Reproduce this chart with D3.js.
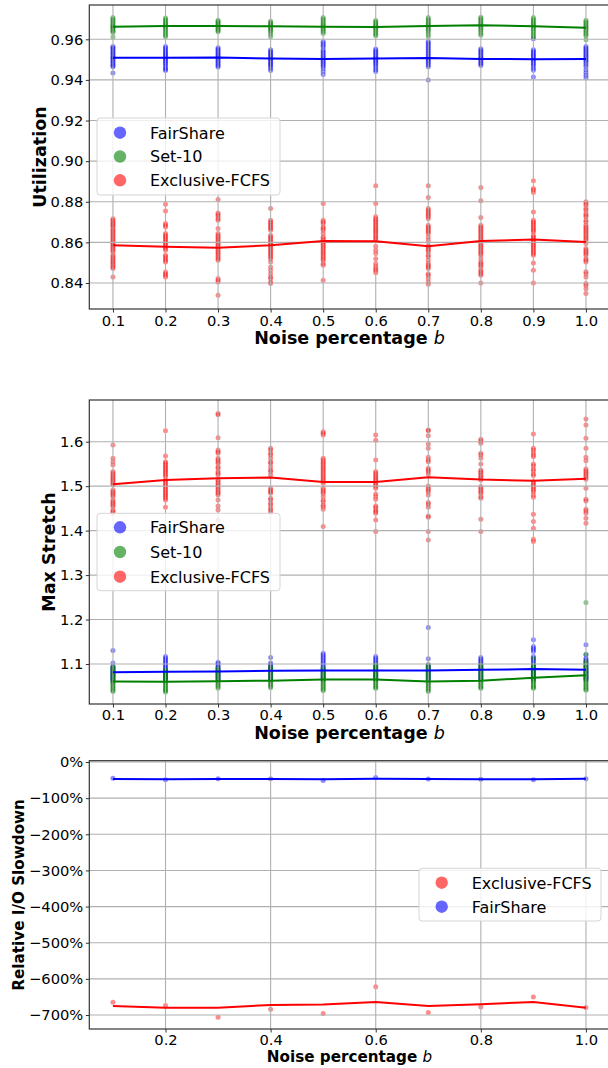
<!DOCTYPE html>
<html>
<head>
<meta charset="utf-8">
<script src="https://cdn.jsdelivr.net/npm/d3@7"></script>
<style>
	body { margin: 0; background: #fff; }
	svg { display: block; font-family: 'DejaVu Sans', sans-serif; }
</style>
</head>
<body>
<script>

// noise levels (x axis)
const noise = [0.1, 0.2, 0.3, 0.4, 0.5, 0.6, 0.7, 0.8, 0.9, 1.0]

// ---- Utilization ----
const utilFairShareMean = [0.9509, 0.9509, 0.9511, 0.9505, 0.9503, 0.9506, 0.9508, 0.9503, 0.9502, 0.9503]
const utilSet10Mean = [0.96623, 0.96656, 0.96656, 0.96639, 0.96623, 0.96606, 0.96656, 0.96689, 0.96639, 0.96573]
const utilExclusiveMean = [0.8586, 0.8578, 0.8574, 0.8586, 0.8607, 0.8606, 0.8581, 0.8607, 0.8614, 0.8602]

const utilFairSharePts = [
	[0.9564, 0.9558, 0.9552, 0.9545, 0.9538, 0.9531, 0.9524, 0.9517, 0.9511, 0.9505, 0.9498, 0.9491, 0.9484, 0.9477, 0.9470, 0.9465, 0.9434],
	[0.9564, 0.9557, 0.9549, 0.9541, 0.9534, 0.9527, 0.9520, 0.9513, 0.9507, 0.9500, 0.9493, 0.9486, 0.9478, 0.9470, 0.9460, 0.9452, 0.9446],
	[0.9559, 0.9552, 0.9545, 0.9538, 0.9531, 0.9524, 0.9518, 0.9512, 0.9505, 0.9498, 0.9491, 0.9484, 0.9477, 0.9470, 0.9464],
	[0.9548, 0.9541, 0.9534, 0.9527, 0.9520, 0.9513, 0.9507, 0.9501, 0.9494, 0.9487, 0.9480, 0.9473, 0.9466, 0.9456, 0.9446],
	[0.9589, 0.9580, 0.9571, 0.9563, 0.9548, 0.9540, 0.9532, 0.9524, 0.9516, 0.9509, 0.9502, 0.9495, 0.9488, 0.9481, 0.9474, 0.9466, 0.9455, 0.9441, 0.9427],
	[0.9552, 0.9545, 0.9538, 0.9531, 0.9524, 0.9517, 0.9511, 0.9505, 0.9499, 0.9492, 0.9485, 0.9478, 0.9470, 0.9460, 0.9450, 0.9441],
	[0.9590, 0.9582, 0.9574, 0.9566, 0.9558, 0.9550, 0.9542, 0.9534, 0.9526, 0.9518, 0.9511, 0.9504, 0.9497, 0.9490, 0.9482, 0.9474, 0.9465, 0.9400],
	[0.9553, 0.9546, 0.9539, 0.9532, 0.9525, 0.9518, 0.9511, 0.9505, 0.9499, 0.9492, 0.9485, 0.9478, 0.9471],
	[0.9603, 0.9548, 0.9541, 0.9534, 0.9527, 0.9520, 0.9513, 0.9506, 0.9500, 0.9493, 0.9485, 0.9477, 0.9468, 0.9458, 0.9448, 0.9414],
	[0.9564, 0.9557, 0.9550, 0.9543, 0.9536, 0.9529, 0.9522, 0.9515, 0.9508, 0.9501, 0.9494, 0.9486, 0.9476, 0.9466, 0.9450, 0.9436, 0.9423, 0.9411]
]
const utilSet10Pts = [
	[0.9707, 0.9700, 0.9693, 0.9686, 0.9679, 0.9672, 0.9666, 0.9662, 0.9658, 0.9652, 0.9646, 0.9640, 0.9634, 0.9611],
	[0.9705, 0.9698, 0.9690, 0.9683, 0.9676, 0.9670, 0.9665, 0.9660, 0.9653, 0.9645, 0.9637, 0.9628, 0.9620, 0.9612],
	[0.9694, 0.9688, 0.9682, 0.9676, 0.9670, 0.9665, 0.9660, 0.9654, 0.9648, 0.9642, 0.9637],
	[0.9689, 0.9683, 0.9677, 0.9671, 0.9666, 0.9661, 0.9656, 0.9650, 0.9643, 0.9636, 0.9625, 0.9613],
	[0.9707, 0.9700, 0.9692, 0.9684, 0.9677, 0.9670, 0.9664, 0.9658, 0.9651, 0.9644, 0.9637, 0.9629],
	[0.9693, 0.9686, 0.9679, 0.9672, 0.9665, 0.9660, 0.9655, 0.9648, 0.9640, 0.9632, 0.9624, 0.9617],
	[0.9707, 0.9699, 0.9691, 0.9684, 0.9677, 0.9670, 0.9664, 0.9658, 0.9651, 0.9643, 0.9635, 0.9624, 0.9613],
	[0.9709, 0.9702, 0.9695, 0.9688, 0.9681, 0.9674, 0.9668, 0.9662, 0.9655, 0.9647, 0.9638, 0.9629, 0.9620],
	[0.9707, 0.9699, 0.9691, 0.9684, 0.9677, 0.9670, 0.9664, 0.9658, 0.9651, 0.9643, 0.9635, 0.9625, 0.9618, 0.9608],
	[0.9694, 0.9687, 0.9680, 0.9673, 0.9666, 0.9660, 0.9654, 0.9647, 0.9640, 0.9632, 0.9624, 0.9616, 0.9598]
]
const utilExclusivePts = [
	[0.8717, 0.8709, 0.8701, 0.8693, 0.8686, 0.8680, 0.8668, 0.8660, 0.8652, 0.8644, 0.8635, 0.8627, 0.8619, 0.8611, 0.8602, 0.8594, 0.8586, 0.8578, 0.8570, 0.8561, 0.8553, 0.8537, 0.8529, 0.8520, 0.8512, 0.8504, 0.8496, 0.8487, 0.8479, 0.8471, 0.8430],
	[0.8788, 0.8755, 0.8693, 0.8685, 0.8676, 0.8644, 0.8635, 0.8627, 0.8619, 0.8611, 0.8602, 0.8594, 0.8586, 0.8578, 0.8570, 0.8561, 0.8537, 0.8529, 0.8520, 0.8512, 0.8504, 0.8454, 0.8446, 0.8438, 0.8430],
	[0.8811, 0.8745, 0.8737, 0.8729, 0.8717, 0.8709, 0.8668, 0.8644, 0.8635, 0.8627, 0.8619, 0.8611, 0.8602, 0.8594, 0.8586, 0.8578, 0.8570, 0.8561, 0.8553, 0.8545, 0.8537, 0.8528, 0.8520, 0.8512, 0.8422, 0.8413, 0.8405, 0.8340],
	[0.8767, 0.8709, 0.8701, 0.8693, 0.8685, 0.8676, 0.8668, 0.8660, 0.8635, 0.8627, 0.8619, 0.8611, 0.8602, 0.8594, 0.8586, 0.8578, 0.8570, 0.8561, 0.8553, 0.8545, 0.8537, 0.8528, 0.8520, 0.8504, 0.8479, 0.8463, 0.8446, 0.8430, 0.8422, 0.8405, 0.8397],
	[0.8791, 0.8709, 0.8701, 0.8693, 0.8676, 0.8668, 0.8660, 0.8644, 0.8627, 0.8619, 0.8611, 0.8602, 0.8594, 0.8586, 0.8578, 0.8570, 0.8561, 0.8553, 0.8545, 0.8537, 0.8528, 0.8520, 0.8512, 0.8496, 0.8487, 0.8413],
	[0.8879, 0.8791, 0.8726, 0.8717, 0.8709, 0.8701, 0.8693, 0.8685, 0.8676, 0.8668, 0.8660, 0.8652, 0.8644, 0.8635, 0.8627, 0.8619, 0.8611, 0.8581, 0.8561, 0.8545, 0.8520, 0.8496, 0.8483, 0.8470, 0.8463, 0.8451],
	[0.8879, 0.8821, 0.8767, 0.8758, 0.8750, 0.8742, 0.8734, 0.8726, 0.8717, 0.8685, 0.8676, 0.8668, 0.8660, 0.8652, 0.8644, 0.8627, 0.8611, 0.8586, 0.8578, 0.8570, 0.8561, 0.8553, 0.8537, 0.8529, 0.8512, 0.8496, 0.8487, 0.8479, 0.8471, 0.8446, 0.8438, 0.8422, 0.8405, 0.8394],
	[0.8870, 0.8805, 0.8722, 0.8685, 0.8676, 0.8668, 0.8660, 0.8652, 0.8644, 0.8635, 0.8627, 0.8619, 0.8611, 0.8594, 0.8586, 0.8578, 0.8570, 0.8561, 0.8553, 0.8545, 0.8537, 0.8520, 0.8504, 0.8496, 0.8487, 0.8479, 0.8463, 0.8455, 0.8446, 0.8438, 0.8400],
	[0.8903, 0.8865, 0.8858, 0.8846, 0.8750, 0.8709, 0.8701, 0.8693, 0.8685, 0.8676, 0.8668, 0.8660, 0.8652, 0.8635, 0.8627, 0.8619, 0.8611, 0.8602, 0.8594, 0.8586, 0.8578, 0.8570, 0.8561, 0.8553, 0.8545, 0.8537, 0.8499, 0.8463, 0.8400],
	[0.8800, 0.8791, 0.8783, 0.8767, 0.8758, 0.8742, 0.8734, 0.8726, 0.8709, 0.8701, 0.8685, 0.8676, 0.8668, 0.8660, 0.8652, 0.8644, 0.8635, 0.8627, 0.8619, 0.8611, 0.8594, 0.8570, 0.8561, 0.8553, 0.8545, 0.8537, 0.8520, 0.8512, 0.8504, 0.8455, 0.8446, 0.8430, 0.8397, 0.8389, 0.8372, 0.8348]
]
const utilTicks = [0.84, 0.86, 0.88, 0.90, 0.92, 0.94, 0.96]

// ---- Max Stretch ----
const stretchFairShareMean = [1.0817, 1.0825, 1.0832, 1.0847, 1.0854, 1.0854, 1.0854, 1.0870, 1.0885, 1.0870]
const stretchSet10Mean = [1.0607, 1.0600, 1.0612, 1.0625, 1.0652, 1.0652, 1.0607, 1.0624, 1.0690, 1.0748]
const stretchExclusiveMean = [1.5042, 1.5139, 1.5177, 1.5192, 1.5094, 1.5094, 1.5199, 1.5147, 1.5124, 1.5169]

const stretchFairSharePts = [
	[1.1304, 1.1020, 1.0945, 1.0920, 1.0895, 1.0870, 1.0845, 1.0820, 1.0795, 1.0770, 1.0745, 1.0720, 1.0695, 1.0670, 1.0645, 1.0610],
	[1.1169, 1.1130, 1.1095, 1.1057, 1.1020, 1.0985, 1.0950, 1.0915, 1.0880, 1.0850, 1.0820, 1.0790, 1.0760, 1.0730, 1.0700, 1.0670, 1.0645],
	[1.1042, 1.1010, 1.0975, 1.0945, 1.0915, 1.0885, 1.0855, 1.0825, 1.0795, 1.0765, 1.0735, 1.0705, 1.0675, 1.0645],
	[1.1147, 1.1020, 1.0990, 1.0960, 1.0930, 1.0900, 1.0870, 1.0840, 1.0810, 1.0780, 1.0750, 1.0720, 1.0690, 1.0660, 1.0645],
	[1.1244, 1.1205, 1.1170, 1.1130, 1.1095, 1.1057, 1.1020, 1.0985, 1.0950, 1.0915, 1.0880, 1.0850, 1.0820, 1.0790, 1.0760, 1.0730, 1.0700, 1.0670, 1.0645],
	[1.1169, 1.1130, 1.1095, 1.1057, 1.1020, 1.0985, 1.0950, 1.0915, 1.0880, 1.0850, 1.0820, 1.0790, 1.0760, 1.0730, 1.0700, 1.0670, 1.0645],
	[1.1821, 1.1117, 1.0985, 1.0955, 1.0925, 1.0895, 1.0865, 1.0835, 1.0805, 1.0775, 1.0745, 1.0715, 1.0685, 1.0645],
	[1.1147, 1.1115, 1.1080, 1.1045, 1.1010, 1.0975, 1.0940, 1.0905, 1.0870, 1.0840, 1.0810, 1.0780, 1.0750, 1.0720, 1.0690, 1.0660, 1.0645],
	[1.1544, 1.1394, 1.1355, 1.1320, 1.1282, 1.1169, 1.1130, 1.1095, 1.1057, 1.1020, 1.0985, 1.0950, 1.0915, 1.0880, 1.0850, 1.0820, 1.0790, 1.0760, 1.0730, 1.0700, 1.0670, 1.0645],
	[1.1432, 1.1207, 1.1132, 1.1095, 1.1057, 1.1020, 1.0985, 1.0950, 1.0915, 1.0880, 1.0850, 1.0820, 1.0790, 1.0760, 1.0730, 1.0700, 1.0670, 1.0645]
]
const stretchSet10Pts = [
	[1.0945, 1.0915, 1.0885, 1.0855, 1.0825, 1.0795, 1.0765, 1.0735, 1.0705, 1.0675, 1.0645, 1.0615, 1.0585, 1.0555, 1.0525, 1.0495, 1.0465, 1.0435, 1.0405, 1.0383],
	[1.0870, 1.0840, 1.0810, 1.0780, 1.0750, 1.0720, 1.0690, 1.0660, 1.0630, 1.0600, 1.0570, 1.0540, 1.0510, 1.0480, 1.0450, 1.0420, 1.0390, 1.0368],
	[1.0907, 1.0877, 1.0847, 1.0817, 1.0787, 1.0757, 1.0727, 1.0697, 1.0667, 1.0637, 1.0607, 1.0577, 1.0547, 1.0517, 1.0487, 1.0457],
	[1.0945, 1.0915, 1.0885, 1.0855, 1.0825, 1.0795, 1.0765, 1.0735, 1.0705, 1.0675, 1.0645, 1.0615, 1.0585, 1.0555, 1.0525, 1.0495, 1.0465],
	[1.0907, 1.0877, 1.0847, 1.0817, 1.0787, 1.0757, 1.0727, 1.0697, 1.0667, 1.0637, 1.0607, 1.0577, 1.0547, 1.0517, 1.0487, 1.0457, 1.0427, 1.0398],
	[1.0982, 1.0952, 1.0922, 1.0892, 1.0862, 1.0832, 1.0802, 1.0772, 1.0742, 1.0712, 1.0682, 1.0652, 1.0622, 1.0592, 1.0562, 1.0532, 1.0502, 1.0472, 1.0457],
	[1.0982, 1.0952, 1.0922, 1.0892, 1.0862, 1.0832, 1.0802, 1.0772, 1.0742, 1.0712, 1.0682, 1.0652, 1.0622, 1.0592, 1.0562, 1.0532, 1.0502, 1.0472, 1.0442, 1.0412, 1.0383],
	[1.0982, 1.0952, 1.0922, 1.0892, 1.0862, 1.0832, 1.0802, 1.0772, 1.0742, 1.0712, 1.0682, 1.0652, 1.0622, 1.0592, 1.0562, 1.0532, 1.0502, 1.0472, 1.0457],
	[1.1132, 1.0982, 1.0952, 1.0922, 1.0892, 1.0862, 1.0832, 1.0802, 1.0772, 1.0742, 1.0712, 1.0682, 1.0652, 1.0622, 1.0592, 1.0562, 1.0532, 1.0502, 1.0472, 1.0457],
	[1.2382, 1.1222, 1.1057, 1.1020, 1.0985, 1.0950, 1.0915, 1.0880, 1.0850, 1.0820, 1.0790, 1.0760, 1.0730, 1.0700, 1.0670, 1.0640, 1.0610, 1.0580, 1.0550, 1.0520, 1.0490, 1.0460, 1.0430, 1.0408]
]
const stretchExclusivePts = [
	[1.5926, 1.5626, 1.5551, 1.5476, 1.5327, 1.5289, 1.5252, 1.5214, 1.5177, 1.5139, 1.5102, 1.5064, 1.5027, 1.4915, 1.4877, 1.4840, 1.4802, 1.4765, 1.4690, 1.4652, 1.4615, 1.4578, 1.4540, 1.4465, 1.4428, 1.4390],
	[1.6248, 1.5679, 1.5551, 1.5514, 1.5476, 1.5439, 1.5401, 1.5364, 1.5327, 1.5289, 1.5252, 1.5214, 1.5139, 1.5102, 1.5064, 1.5027, 1.4990, 1.4952, 1.4915, 1.4877, 1.4840, 1.4802, 1.4765, 1.4727, 1.4690, 1.4525],
	[1.6607, 1.6632, 1.6091, 1.5813, 1.5776, 1.5739, 1.5626, 1.5589, 1.5551, 1.5514, 1.5439, 1.5401, 1.5327, 1.5289, 1.5252, 1.5139, 1.5102, 1.5064, 1.5027, 1.4990, 1.4952, 1.4915, 1.4877, 1.4840, 1.4802, 1.4690, 1.4555, 1.4465, 1.4240],
	[1.5851, 1.5813, 1.5739, 1.5701, 1.5626, 1.5551, 1.5514, 1.5439, 1.5364, 1.5327, 1.5252, 1.4952, 1.4915, 1.4877, 1.4840, 1.4727, 1.4690, 1.4615, 1.4578, 1.4503, 1.4465, 1.4405],
	[1.6226, 1.6188, 1.6151, 1.5626, 1.5589, 1.5551, 1.5514, 1.5476, 1.5439, 1.5401, 1.5364, 1.5327, 1.5289, 1.5252, 1.5214, 1.5177, 1.5139, 1.5102, 1.5064, 1.4952, 1.4915, 1.4877, 1.4840, 1.4765, 1.4690, 1.4652, 1.4578, 1.4540, 1.4480, 1.4091],
	[1.6151, 1.6031, 1.5589, 1.5327, 1.5289, 1.5252, 1.5214, 1.5177, 1.5139, 1.5102, 1.5064, 1.5027, 1.4990, 1.4952, 1.4825, 1.4765, 1.4705, 1.4555, 1.4518, 1.4465, 1.4428, 1.4390, 1.4241, 1.3978],
	[1.6263, 1.6248, 1.6136, 1.5948, 1.5851, 1.5649, 1.5589, 1.5551, 1.5401, 1.5364, 1.5327, 1.5274, 1.5005, 1.4952, 1.4915, 1.4877, 1.4802, 1.4630, 1.4593, 1.4525, 1.4330, 1.4300, 1.3978, 1.3791],
	[1.6053, 1.6016, 1.5963, 1.5739, 1.5701, 1.5626, 1.5499, 1.5364, 1.5327, 1.5289, 1.5252, 1.5214, 1.5177, 1.5139, 1.4990, 1.4952, 1.4915, 1.4877, 1.4840, 1.4765, 1.4727, 1.4255, 1.3978],
	[1.6173, 1.5851, 1.5813, 1.5754, 1.5701, 1.5664, 1.5499, 1.5461, 1.5387, 1.5349, 1.5274, 1.5237, 1.5102, 1.5064, 1.5027, 1.4990, 1.4952, 1.4915, 1.4877, 1.4802, 1.4750, 1.4368, 1.4203, 1.4053, 1.3806, 1.3754],
	[1.6510, 1.6375, 1.6076, 1.5851, 1.5649, 1.5574, 1.5387, 1.5349, 1.5312, 1.5274, 1.5237, 1.5192, 1.5154, 1.4952, 1.4705, 1.4668, 1.4480, 1.4443, 1.4390, 1.4278, 1.4166]
]
const stretchTicks = [1.1, 1.2, 1.3, 1.4, 1.5, 1.6]

// ---- Relative I/O slowdown (%) ----
const ioExclusiveMean = [-675, -680, -680, -672, -671, -664, -675, -670, -664, -680]
const ioFairShareMean = [-47, -48, -47, -47, -48, -46, -47, -47.5, -48, -46.5]
const ioExclusivePts = [-665, -674, -706, -684, -696, -622, -693, -678, -650, -679]
const ioFairSharePts = [-45, -49, -46, -46, -51, -43, -47, -48, -49, -46]
const ioTicks = [0, -100, -200, -300, -400, -500, -600, -700]
const ioXTicks = [0.2, 0.4, 0.6, 0.8, 1.0]

const colors = { FairShare: '#0000ff', 'Set-10': '#008000', 'Exclusive-FCFS': '#ff0000' }

const svg = d3.select('body').append('svg').attr('width', 608).attr('height', 1068)

// same x range for every panel
const x = d3.scaleLinear().domain([0.055, 1.045]).range([89.3, 609.6])

function drawPanel(p) {
	const y = d3.scaleLinear().domain(p.yDomain).range([p.bottom, p.top])
	const g = svg.append('g')

	//scatter first (matplotlib puts the grid above collections)
	p.series.forEach(s => {
		let pts = []
		s.pts.forEach((arr, i) => {
			if (Array.isArray(arr)) arr.forEach(v => pts.push([noise[i], v]))
			else pts.push([noise[i], arr])
		})
		g.append('g').selectAll('circle').data(pts).join('circle')
			.attr('cx', d => x(d[0]))
			.attr('cy', d => y(d[1]))
			.attr('r', 2.5)
			.style('fill', colors[s.name])
			.style('fill-opacity', 0.45)
	})

	//grid
	g.append('g').selectAll('line').data(p.xTicks).join('line')
		.attr('x1', d => x(d)).attr('x2', d => x(d))
		.attr('y1', p.top).attr('y2', p.bottom)
		.style('stroke', '#b0b0b0').style('stroke-width', 1.1)
	g.append('g').selectAll('line').data(p.yTicks).join('line')
		.attr('x1', 89.3).attr('x2', 609.6)
		.attr('y1', d => y(d)).attr('y2', d => y(d))
		.style('stroke', '#b0b0b0').style('stroke-width', 1.1)

	//mean lines
	const line = d3.line().x((d, i) => x(noise[i])).y(d => y(d))
	p.series.forEach(s => {
		g.append('path').datum(s.mean)
			.attr('d', line)
			.style('fill', 'none')
			.style('stroke', colors[s.name])
			.style('stroke-width', 2)
	})

	//axes
	const ax = g.append('g').attr('transform', 'translate(0,' + p.bottom + ')')
		.call(d3.axisBottom(x).tickValues(p.xTicks).tickFormat(d3.format('.1f')).tickSize(3.5).tickPadding(3))
	const ay = g.append('g').attr('transform', 'translate(89.3,0)')
		.call(d3.axisLeft(y).tickValues(p.yTicks).tickFormat(p.fmt).tickSize(3.5).tickPadding(2.5))
	;[ax, ay].forEach(a => {
		a.select('.domain').remove()
		a.selectAll('line').style('stroke', '#333').style('stroke-width', 1)
		a.selectAll('text').style('font-size', '14.7px').style('fill', '#000')
			.style('font-family', "'DejaVu Sans', sans-serif")
	})
	ax.selectAll('text').attr('dy', null).attr('y', p.xTickBase - p.bottom)

	//frame
	g.append('rect')
		.attr('x', 89.3).attr('y', p.top)
		.attr('width', 609.6 - 89.3).attr('height', p.bottom - p.top)
		.style('fill', 'none').style('stroke', '#333').style('stroke-width', 1.2)

	//labels
	g.append('text')
		.attr('transform', 'translate(' + p.yLabelX + ',' + (p.top + p.bottom) / 2 + ') rotate(-90)')
		.attr('text-anchor', 'middle').attr('dominant-baseline', 'central')
		.style('font-weight', 'bold').style('font-size', p.labelSize + 'px')
		.text(p.yLabel)
	const xl = g.append('text')
		.attr('x', 349.5).attr('y', p.xLabelBase)
		.attr('text-anchor', 'middle')
		.style('font-weight', 'bold').style('font-size', p.labelSize + 'px')
	xl.append('tspan').text('Noise percentage ')
	xl.append('tspan').style('font-style', 'italic').style('font-weight', 'normal').text('b')

	//legend
	const L = p.legend
	const lg = g.append('g')
	lg.append('rect')
		.attr('x', L.x).attr('y', L.y).attr('width', L.w).attr('height', L.h)
		.attr('rx', 3)
		.style('fill', '#fff').style('fill-opacity', 0.8)
		.style('stroke', '#d5d5d5').style('stroke-width', 1)
	L.items.forEach((name, i) => {
		const cy = L.y + L.first + i * L.step
		lg.append('circle').attr('cx', L.x + L.mx).attr('cy', cy).attr('r', 6.2)
			.style('fill', colors[name]).style('fill-opacity', 0.6)
		lg.append('text').attr('x', L.x + L.tx).attr('y', cy + 5.8)
			.style('font-size', '16px').text(name)
	})
}

drawPanel({
	top: 5, bottom: 309, yDomain: [0.8272, 0.97689],
	yTicks: utilTicks, xTicks: noise, fmt: d3.format('.2f'),
	xTickBase: 325.5, xLabelBase: 343.5, yLabelX: 40, labelSize: 17.5,
	yLabel: 'Utilization',
	series: [
		{ name: 'FairShare', pts: utilFairSharePts, mean: utilFairShareMean },
		{ name: 'Set-10', pts: utilSet10Pts, mean: utilSet10Mean },
		{ name: 'Exclusive-FCFS', pts: utilExclusivePts, mean: utilExclusiveMean }
	],
	legend: { x: 97, y: 118, w: 183, h: 77, first: 14.7, step: 23.8, mx: 23, tx: 53,
		items: ['FairShare', 'Set-10', 'Exclusive-FCFS'] }
})

drawPanel({
	top: 400, bottom: 704, yDomain: [1.01003, 1.69379],
	yTicks: stretchTicks, xTicks: noise, fmt: d3.format('.1f'),
	xTickBase: 720, xLabelBase: 738.5, yLabelX: 49.3, labelSize: 17.5,
	yLabel: 'Max Stretch',
	series: [
		{ name: 'FairShare', pts: stretchFairSharePts, mean: stretchFairShareMean },
		{ name: 'Set-10', pts: stretchSet10Pts, mean: stretchSet10Mean },
		{ name: 'Exclusive-FCFS', pts: stretchExclusivePts, mean: stretchExclusiveMean }
	],
	legend: { x: 97, y: 513.3, w: 183, h: 77.4, first: 14, step: 24.7, mx: 23, tx: 53,
		items: ['FairShare', 'Set-10', 'Exclusive-FCFS'] }
})

drawPanel({
	top: 760.7, bottom: 1029, yDomain: [-738.7, 3.6],
	yTicks: ioTicks, xTicks: ioXTicks,
	fmt: v => (v < 0 ? '\u2212' : '') + Math.abs(v) + '%',
	xTickBase: 1045, xLabelBase: 1061.7, yLabelX: 18.7, labelSize: 15.2,
	yLabel: 'Relative I/O Slowdown',
	series: [
		{ name: 'Exclusive-FCFS', pts: ioExclusivePts, mean: ioExclusiveMean },
		{ name: 'FairShare', pts: ioFairSharePts, mean: ioFairShareMean }
	],
	legend: { x: 419, y: 868.3, w: 182, h: 52.7, first: 14.4, step: 24, mx: 22.7, tx: 52.7,
		items: ['Exclusive-FCFS', 'FairShare'] }
})

</script>
</body>
</html>
